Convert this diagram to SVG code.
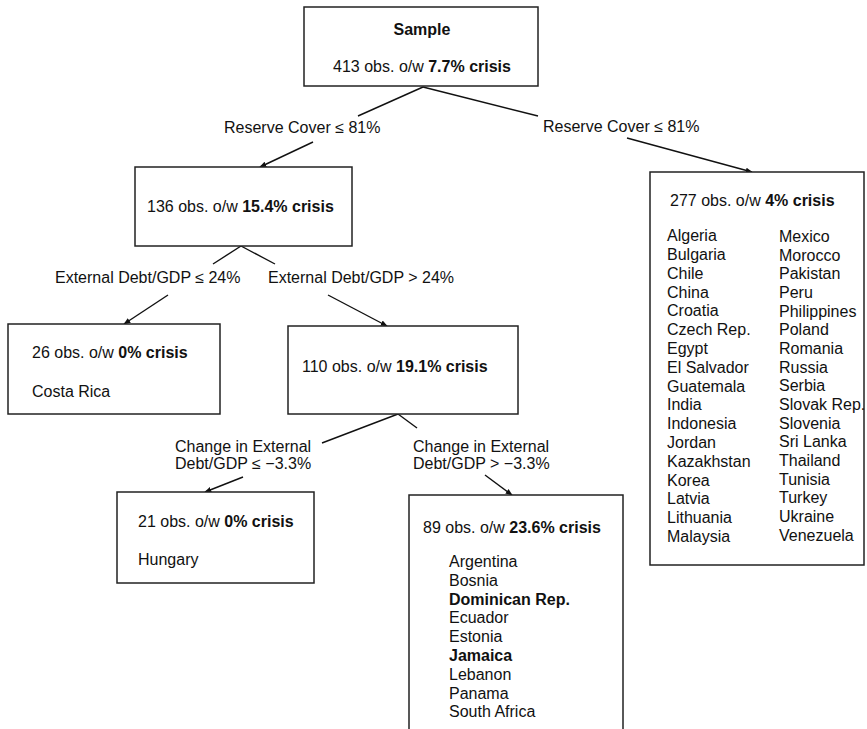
<svg xmlns="http://www.w3.org/2000/svg" width="867" height="729" viewBox="0 0 867 729">
<style>
text{font-family:"Liberation Sans",Arial,sans-serif;font-size:16px;fill:#111}
.b{font-weight:bold}
rect{fill:#fff;stroke:#222;stroke-width:1.5}
line{stroke:#111;stroke-width:1.4}
.a{marker-end:url(#ah)}
</style>
<defs>
<marker id="ah" viewBox="0 0 10 10" refX="9" refY="5" markerWidth="7" markerHeight="7" markerUnits="userSpaceOnUse" orient="auto">
<path d="M0,1 L10,5 L0,9 z" fill="#111"/>
</marker>
</defs>
<rect width="867" height="729" fill="#fff" style="stroke:none"/>
<g id="connectors">
<line x1="423" y1="87" x2="358" y2="116"/>
<line class="a" x1="313" y1="142" x2="260" y2="167"/>
<line x1="423" y1="87" x2="538" y2="116"/>
<line class="a" x1="627" y1="138" x2="752" y2="172"/>
<line x1="241" y1="246" x2="213" y2="264"/>
<line x1="241" y1="246" x2="275" y2="264"/>
<line class="a" x1="168" y1="295" x2="124" y2="324"/>
<line class="a" x1="328" y1="295" x2="387" y2="326"/>
<line x1="398" y1="414" x2="322" y2="443"/>
<line x1="398" y1="414" x2="417" y2="428"/>
<line class="a" x1="243" y1="477" x2="205" y2="492"/>
<line class="a" x1="485" y1="475" x2="512" y2="495"/>
</g>
<g id="labels">
<text x="224" y="133">Reserve Cover ≤ 81%</text>
<text x="543" y="132">Reserve Cover ≤ 81%</text>
<text x="55" y="283">External Debt/GDP ≤ 24%</text>
<text x="268" y="283">External Debt/GDP &gt; 24%</text>
<text x="175" y="452">Change in External</text>
<text x="175" y="469">Debt/GDP ≤ −3.3%</text>
<text x="413" y="452">Change in External</text>
<text x="413" y="469">Debt/GDP &gt; −3.3%</text>
</g>
<g id="sample">
<rect x="304" y="7" width="234" height="79"/>
<text class="b" x="422" y="35" text-anchor="middle">Sample</text>
<text x="422" y="72" text-anchor="middle">413 obs. o/w <tspan class="b">7.7% crisis</tspan></text>
</g>
<g id="n136">
<rect x="135" y="167" width="217" height="79"/>
<text x="147" y="212">136 obs. o/w <tspan class="b">15.4% crisis</tspan></text>
</g>
<g id="n26">
<rect x="8" y="324" width="212" height="90"/>
<text x="32" y="358">26 obs. o/w <tspan class="b">0% crisis</tspan></text>
<text x="32" y="397">Costa Rica</text>
</g>
<g id="n110">
<rect x="288" y="326" width="230" height="88"/>
<text x="302" y="372">110 obs. o/w <tspan class="b">19.1% crisis</tspan></text>
</g>
<g id="n21">
<rect x="117" y="492" width="197" height="91"/>
<text x="138" y="527">21 obs. o/w <tspan class="b">0% crisis</tspan></text>
<text x="138" y="565">Hungary</text>
</g>
<g id="n89">
<rect x="409" y="495" width="214" height="250"/>
<text x="423" y="533">89 obs. o/w <tspan class="b">23.6% crisis</tspan></text>
<text x="449" y="567">Argentina</text>
<text x="449" y="586">Bosnia</text>
<text class="b" x="449" y="604.5">Dominican Rep.</text>
<text x="449" y="623">Ecuador</text>
<text x="449" y="642">Estonia</text>
<text class="b" x="449" y="661">Jamaica</text>
<text x="449" y="680">Lebanon</text>
<text x="449" y="698.5">Panama</text>
<text x="449" y="717">South Africa</text>
</g>
<g id="n277">
<rect x="650" y="172" width="214" height="393"/>
<text x="670" y="206">277 obs. o/w <tspan class="b">4% crisis</tspan></text>
<g>
<text x="667" y="241">Algeria</text>
<text x="667" y="260">Bulgaria</text>
<text x="667" y="278.5">Chile</text>
<text x="667" y="297.5">China</text>
<text x="667" y="316">Croatia</text>
<text x="667" y="335">Czech Rep.</text>
<text x="667" y="354">Egypt</text>
<text x="667" y="372.5">El Salvador</text>
<text x="667" y="391.5">Guatemala</text>
<text x="667" y="410">India</text>
<text x="667" y="429">Indonesia</text>
<text x="667" y="448">Jordan</text>
<text x="667" y="466.5">Kazakhstan</text>
<text x="667" y="485.5">Korea</text>
<text x="667" y="504">Latvia</text>
<text x="667" y="523">Lithuania</text>
<text x="667" y="542">Malaysia</text>
</g>
<g>
<text x="779" y="242">Mexico</text>
<text x="779" y="260.5">Morocco</text>
<text x="779" y="279">Pakistan</text>
<text x="779" y="298">Peru</text>
<text x="779" y="316.5">Philippines</text>
<text x="779" y="335">Poland</text>
<text x="779" y="354">Romania</text>
<text x="779" y="372.5">Russia</text>
<text x="779" y="391">Serbia</text>
<text x="779" y="410">Slovak Rep.</text>
<text x="779" y="428.5">Slovenia</text>
<text x="779" y="447">Sri Lanka</text>
<text x="779" y="466">Thailand</text>
<text x="779" y="484.5">Tunisia</text>
<text x="779" y="503">Turkey</text>
<text x="779" y="522">Ukraine</text>
<text x="779" y="540.5">Venezuela</text>
</g>
</g>
</svg>
